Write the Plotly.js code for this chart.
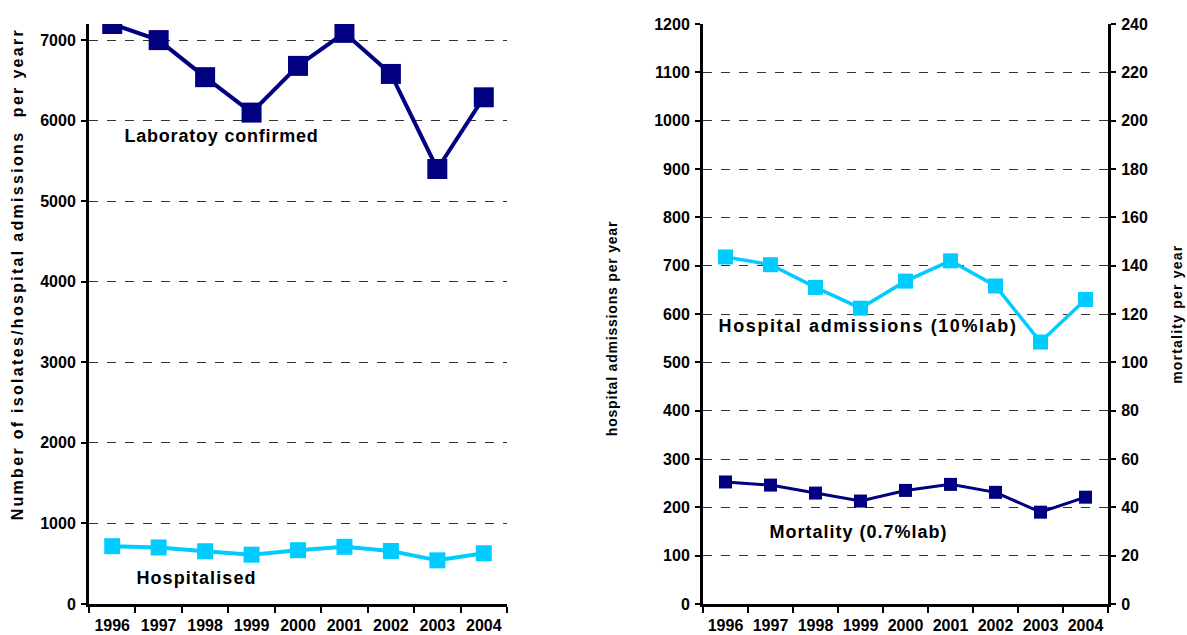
<!DOCTYPE html>
<html>
<head>
<meta charset="utf-8">
<script src="https://cdn.plot.ly/plotly-3.0.1.min.js"></script>
<style>html,body{margin:0;padding:0;background:#fff;}#chart{width:1187px;height:635px;}</style>
</head>
<body>
<div id="chart"></div>
<script>
// ---- data ----
var years = ['1996','1997','1998','1999','2000','2001','2002','2003','2004'];
var labConfirmed = [7200, 7000, 6540, 6100, 6680, 7090, 6580, 5400, 6290];
var hospitalised = [718, 702, 655, 612, 668, 710, 658, 542, 630];
var hospitalAdmissions = [718, 702, 655, 612, 668, 710, 658, 542, 630];
var mortality = [50.5, 49.2, 45.9, 42.6, 47.0, 49.5, 46.2, 38.0, 44.2];
var leftTicks = [0, 1000, 2000, 3000, 4000, 5000, 6000, 7000];
var rightTicks = [0,100,200,300,400,500,600,700,800,900,1000,1100,1200];
var mortTicks = [0,20,40,60,80,100,120,140,160,180,200,220,240];

var navy = '#000080', cyan = '#00CCFF';
var W = 1187, H = 635;
function px(x){return x/W;}
function py(y){return 1 - y/H;}
var fam = 'Arial, "Liberation Sans", sans-serif';
var tickFont = {family:fam, size:16, color:'#000', weight:'bold'};

var traces = [
  {x: years, y: labConfirmed, xaxis:'x', yaxis:'y', mode:'lines+markers',
   line:{color:navy, width:4}, marker:{symbol:'square', size:20, color:navy}},
  {x: years, y: hospitalised, xaxis:'x', yaxis:'y', mode:'lines+markers',
   line:{color:cyan, width:4}, marker:{symbol:'square', size:16, color:cyan}},
  {x: years, y: hospitalAdmissions, xaxis:'x2', yaxis:'y2', mode:'lines+markers',
   line:{color:cyan, width:3.5}, marker:{symbol:'square', size:15, color:cyan}},
  {x: years, y: mortality, xaxis:'x2', yaxis:'y3', mode:'lines+markers',
   line:{color:navy, width:3}, marker:{symbol:'square', size:13, color:navy}}
];

var yDom = [py(604), py(24)];
function xAx(dom, anchor){
  return {domain: dom, anchor: anchor, type:'category', categoryorder:'array', categoryarray: years,
    range:[-0.5, 8.5], showline:true, linewidth:3, linecolor:'#000', ticks:'outside', tickson:'boundaries',
    ticklen:6, tickwidth:2, tickcolor:'#000', showgrid:false, zeroline:false, tickfont:tickFont,
    tickangle:0, ticklabelstandoff:5, fixedrange:true};
}
function yAx(range, tv, anchor, side){
  return {domain: yDom, anchor: anchor, side: side, range: range, tickvals: tv, ticktext: tv.map(String),
    showline:true, linewidth:3, linecolor:'#000', ticks:'outside', ticklen:5, tickwidth:2, tickcolor:'#000',
    showgrid:true, gridcolor:'#333', griddash:'dash', gridwidth:1, zeroline:false, tickfont:tickFont,
    ticklabelstandoff:2, fixedrange:true};
}

var annFont = {family:fam, size:18, color:'#000', weight:'bold'};
var sideFont = {family:fam, size:14, color:'#000', weight:'bold'};

// letter spacing (px) per annotation, applied after drawing; left-anchored labels are shifted to compensate
var notes = [
  {text:'Laboratoy confirmed', left:122, y:136, sp:0.8},
  {text:'Hospitalised', left:134, y:578, sp:1.1},
  {text:'Hospital admissions (10%lab)', left:717, y:326, sp:1.6},
  {text:'Mortality (0.7%lab)', left:767, y:532, sp:1.0}
];
var annotations = notes.map(function(n){
  return {text:n.text, xref:'paper', yref:'paper', x:px(n.left + n.text.length*n.sp/2), y:py(n.y),
    xanchor:'left', yanchor:'middle', showarrow:false, font:annFont};
});
annotations.push(
  {text:'Number of isolates/hospital admissions  per yearr', xref:'paper', yref:'paper', x:px(17), y:py(274), xanchor:'center', yanchor:'middle', textangle:-90, showarrow:false, font:{family:fam, size:16, color:'#000', weight:'bold'}},
  {text:'hospital admissions per year', xref:'paper', yref:'paper', x:px(612), y:py(328), xanchor:'center', yanchor:'middle', textangle:-90, showarrow:false, font:sideFont},
  {text:'mortality per year', xref:'paper', yref:'paper', x:px(1177), y:py(314), xanchor:'center', yanchor:'middle', textangle:-90, showarrow:false, font:sideFont}
);
var spacing = notes.map(function(n){return n.sp + 'px';}).concat(['2.3px','0.8px','1.2px']);

var layout = {
  width: W, height: H, margin:{l:0,r:0,t:0,b:0}, paper_bgcolor:'#fff', plot_bgcolor:'rgba(0,0,0,0)',
  showlegend:false,
  xaxis: xAx([px(89), px(507)], 'y'),
  yaxis: yAx([0, 7200], leftTicks, 'x', 'left'),
  xaxis2: xAx([px(703), px(1108)], 'y2'),
  yaxis2: yAx([0, 1200], rightTicks, 'x2', 'left'),
  yaxis3: Object.assign(yAx([0, 240], mortTicks, 'x2', 'right'), {overlaying:'y2', showgrid:false}),
  annotations: annotations
};

Plotly.newPlot('chart', traces, layout, {displayModeBar:false, staticPlot:true}).then(function(gd){
  var els = gd.querySelectorAll('.annotation-text');
  els.forEach(function(el, i){ if (spacing[i]) el.style.letterSpacing = spacing[i]; });
});
</script>
</body>
</html>
